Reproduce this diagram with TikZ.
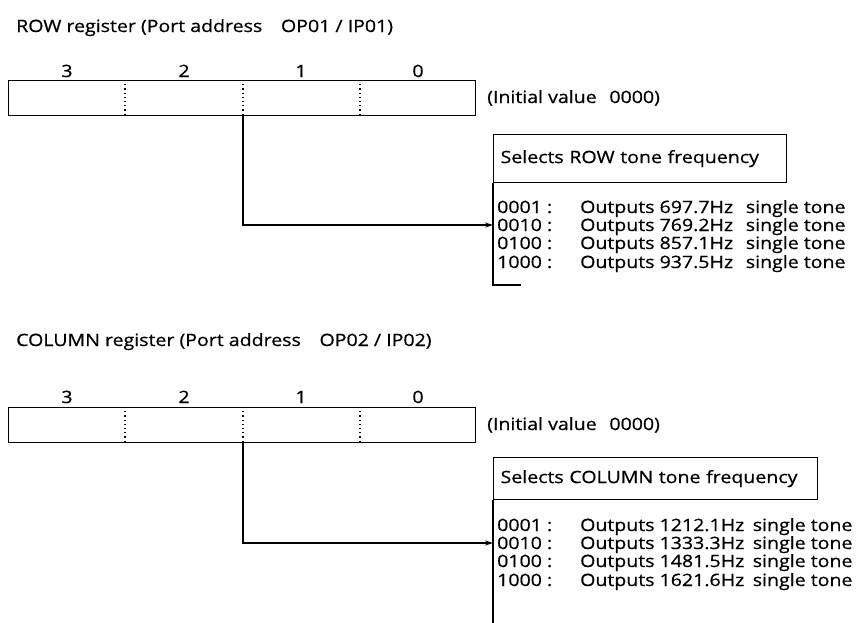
\documentclass[tikz,border=0pt]{standalone}
\usepackage{fontspec}
\setmainfont[FakeStretch=1.15,FakeBold=0.7]{Open Sans}
\usetikzlibrary{arrows.meta}
\begin{document}
\begin{tikzpicture}[x=1pt,y=-1pt,
  txt/.style={inner sep=0pt, anchor=base west, font=\fontsize{17}{20}\selectfont},
  rowtxt/.style={inner sep=0pt, anchor=base west, font=\fontsize{17}{20}\selectfont},
  lbl/.style={inner sep=0pt, anchor=base, font=\fontsize{17}{20}\selectfont},
  regbox/.style={draw, line width=1.3pt, minimum width=467pt, minimum height=35pt, inner sep=0pt, anchor=north west},
  divider/.style={line width=1.4pt, dash pattern=on 1.2pt off 3pt},
  hdrbox/.style={draw, line width=1.2pt, anchor=north west, inner xsep=7pt, inner ysep=0pt, align=left, font=\fontsize{17}{20}\selectfont},
  conn/.style={line width=1.2pt},
  arr/.style={line width=1.2pt, -{Stealth[length=8pt,width=5pt]}},
]
\useasboundingbox (0,0) rectangle (864,622);

% ---------------- ROW register ----------------
\node[txt] (rowtitle) at (16,32) {ROW register (Port address\hspace{1.1em}OP01 / IP01)};
\node[lbl] (rb3) at (67,77) {3};
\node[lbl] (rb2) at (184,77) {2};
\node[lbl] (rb1) at (301,77) {1};
\node[lbl] (rb0) at (418,77) {0};
\node[regbox] (rowreg) at (8,80) {};
\draw[divider] (125,80) -- (125,115);
\draw[divider] (243,80) -- (243,115);
\draw[divider] (360,80) -- (360,115);
\node[txt] (rowinit) at (487,103) {(Initial value\hspace{0.45em} 0000)};

\node[hdrbox, text width=279pt, minimum height=48pt] (rowhdr) at (493,134) {Selects ROW tone frequency};
\coordinate (rowtap) at (243,115);
\coordinate (rowtarget) at (493,225);
\coordinate (rowcorner) at (493,285);
\coordinate (rowend) at (521,285);
\draw[conn] (rowhdr.south west) -- (rowcorner) -- (rowend);
\draw[arr] (rowtap) |- (rowtarget);

\node[rowtxt] (rc1) at (497,213) {0001 :};
\node[rowtxt] (rd1) at (580,213) {Outputs 697.7Hz\hspace{0.45em} single tone};
\node[rowtxt] (rc2) at (497,231) {0010 :};
\node[rowtxt] (rd2) at (580,231) {Outputs 769.2Hz\hspace{0.45em} single tone};
\node[rowtxt] (rc3) at (497,249) {0100 :};
\node[rowtxt] (rd3) at (580,249) {Outputs 857.1Hz\hspace{0.45em} single tone};
\node[rowtxt] (rc4) at (497,268) {1000 :};
\node[rowtxt] (rd4) at (580,268) {Outputs 937.5Hz\hspace{0.45em} single tone};

% ---------------- COLUMN register ----------------
\node[txt] (coltitle) at (16,346) {COLUMN register (Port address\hspace{1.1em}OP02 / IP02)};
\node[lbl] (cb3) at (67,403) {3};
\node[lbl] (cb2) at (184,403) {2};
\node[lbl] (cb1) at (301,403) {1};
\node[lbl] (cb0) at (418,403) {0};
\node[regbox] (colreg) at (8,407) {};
\draw[divider] (125,407) -- (125,442);
\draw[divider] (243,407) -- (243,442);
\draw[divider] (360,407) -- (360,442);
\node[txt] (colinit) at (487,430) {(Initial value\hspace{0.45em} 0000)};

\node[hdrbox, text width=310pt, minimum height=42pt] (colhdr) at (493,457) {Selects COLUMN tone frequency};
\coordinate (coltap) at (243,442);
\coordinate (coltarget) at (493,543);
\coordinate (colbottom) at (493,624);
\draw[conn] (colhdr.south west) -- (colbottom);
\draw[arr] (coltap) |- (coltarget);

\node[rowtxt] (cc1) at (497,531) {0001 :};
\node[rowtxt] (cd1) at (580,531) {Outputs 1212.1Hz\hspace{0.2em} single tone};
\node[rowtxt] (cc2) at (497,549) {0010 :};
\node[rowtxt] (cd2) at (580,549) {Outputs 1333.3Hz\hspace{0.2em} single tone};
\node[rowtxt] (cc3) at (497,567) {0100 :};
\node[rowtxt] (cd3) at (580,567) {Outputs 1481.5Hz\hspace{0.2em} single tone};
\node[rowtxt] (cc4) at (497,586) {1000 :};
\node[rowtxt] (cd4) at (580,586) {Outputs 1621.6Hz\hspace{0.2em} single tone};
\end{tikzpicture}
\end{document}
